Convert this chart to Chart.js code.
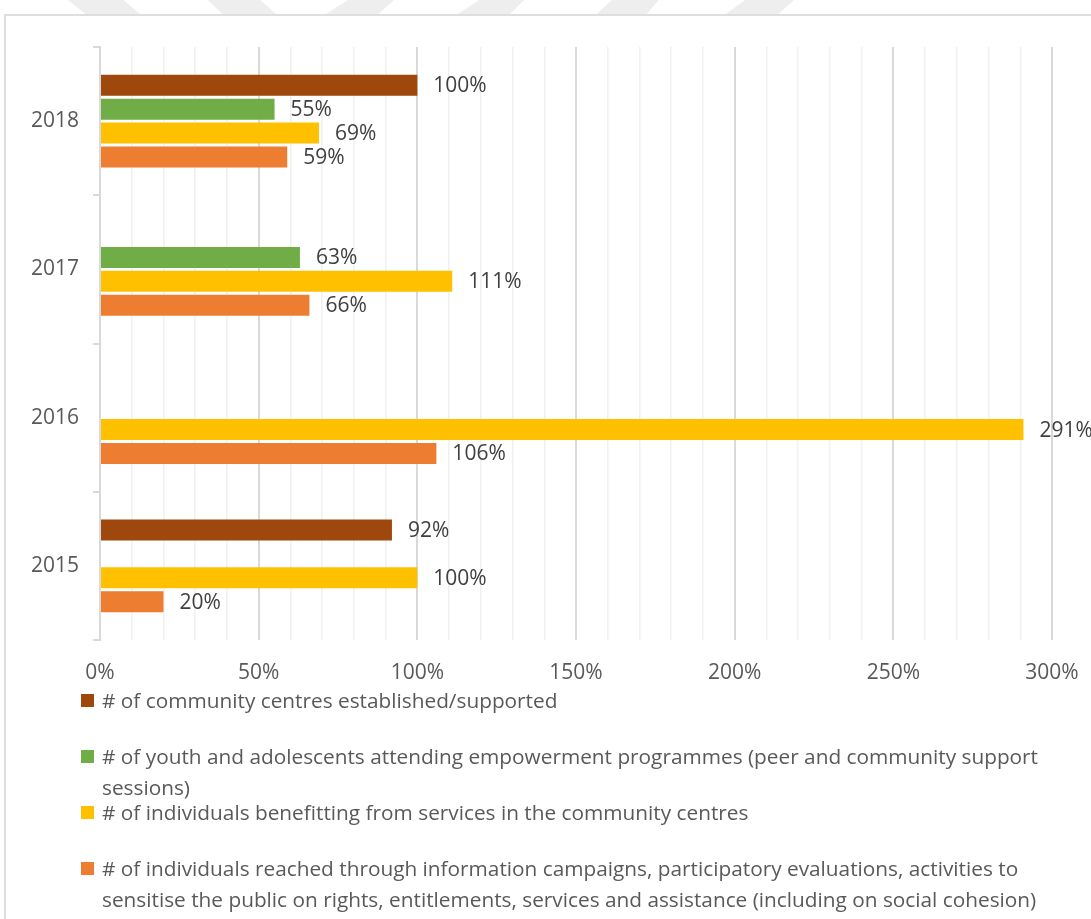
<!DOCTYPE html>
<html>
<head>
<meta charset="utf-8">
<script src="https://cdn.jsdelivr.net/npm/chart.js@4/dist/chart.umd.min.js"></script>
<style>
  html, body { margin:0; padding:0; background:#fff; overflow:hidden; }
  body { width:1091px; height:919px; position:relative; font-family:"Open Sans", sans-serif; }
  .mark { position:absolute; top:0; height:14px; background:#eeeeee; }
  #frame { position:absolute; left:4px; top:14px; width:1300px; height:1200px; border:2px solid #dedede; box-sizing:border-box; }
  #grafico { position:absolute; left:0; top:0; }
  #legenda { position:absolute; left:81px; top:685px; color:#595959; font-size:20.8px; }
  .item { height:56px; position:relative; line-height:31px; white-space:nowrap; padding-left:21px; }
  .item span.cor { position:absolute; left:0; top:9px; width:13px; height:13px; }
</style>
</head>
<body>

<!-- faixas cinza do topo -->
<div class="mark" style="left:68px;width:72px;clip-path:polygon(0 0,77% 0,100% 100%,24% 100%)"></div>
<div class="mark" style="left:208px;width:68px;clip-path:polygon(0 0,77% 0,100% 100%,21% 100%)"></div>
<div class="mark" style="left:326px;width:68px;clip-path:polygon(32% 0,100% 0,77% 100%,0 100%)"></div>
<div class="mark" style="left:458px;width:66px;clip-path:polygon(32% 0,100% 0,79% 100%,0 100%)"></div>
<div class="mark" style="left:597px;width:62px;clip-path:polygon(24% 0,100% 0,80% 100%,0 100%)"></div>
<div class="mark" style="left:726px;width:68px;clip-path:polygon(28% 0,100% 0,77% 100%,0 100%)"></div>

<div id="frame"></div>
<canvas id="grafico" width="1091" height="690"></canvas>
<div id="legenda"></div>

<script>
// ===========================
// DADOS
// ===========================

const anos = ["2018", "2017", "2016", "2015"];

const centros      = [100, null, null, 92];
const jovens       = [55, 63, null, null];
const beneficiados = [69, 111, 291, 100];
const alcancados   = [59, 66, 106, 20];

const nomesSeries = [
    "# of community centres established/supported",
    "# of youth and adolescents attending empowerment programmes (peer and community support\nsessions)",
    "# of individuals benefitting from services in the community centres",
    "# of individuals reached through information campaigns, participatory evaluations, activities to\nsensitise the public on rights, entitlements, services and assistance (including on social cohesion)"
];

const cores = ["#9E480E", "#70AD47", "#FFC000", "#ED7D31"];

const eixoMin = 0;
const eixoMax = 300;
const passo = 10;

const fonte = "'Open Sans', sans-serif";


// ===========================
// RÓTULOS DE VALOR
// ===========================

const rotulos = {
    id: "rotulos",
    afterDatasetsDraw(chart) {
        const ctx = chart.ctx;
        ctx.save();
        ctx.font = "21px " + fonte;
        ctx.fillStyle = "#404040";
        ctx.textAlign = "left";
        ctx.textBaseline = "middle";
        chart.data.datasets.forEach((ds, i) => {
            chart.getDatasetMeta(i).data.forEach((barra, j) => {
                const v = ds.data[j];
                if (v === null) return;
                ctx.fillText(v + "%", barra.x + 16, barra.y + 1);
            });
        });
        ctx.restore();
    }
};


// ===========================
// GRÁFICO
// ===========================

const series = [centros, jovens, beneficiados, alcancados];

new Chart(document.getElementById("grafico"), {
    type: "bar",
    data: {
        labels: anos,
        datasets: series.map((s, i) => ({
            label: nomesSeries[i].replace("\n", " "),
            data: s,
            backgroundColor: cores[i],
            borderWidth: 0,
            categoryPercentage: 0.645,
            barPercentage: 0.88
        }))
    },
    options: {
        indexAxis: "y",
        responsive: false,
        animation: false,
        layout: { padding: { top: 47, right: 39, left: 0, bottom: 0 } },
        plugins: {
            legend: { display: false },
            tooltip: { enabled: false }
        },
        scales: {
            x: {
                min: eixoMin,
                max: eixoMax,
                ticks: {
                    stepSize: passo,
                    autoSkip: false,
                    maxRotation: 0,
                    padding: 20,
                    color: "#595959",
                    font: { family: fonte, size: 21 },
                    callback: v => (v % 50 === 0 ? v + "%" : "")
                },
                grid: {
                    drawTicks: false,
                    color: c => (c.tick && c.tick.value % 50 === 0 ? "#d9d9d9" : "#f0f0f0"),
                    lineWidth: c => (c.tick && c.tick.value % 50 === 0 ? 2 : 1.5)
                },
                border: { display: false },
                afterFit: s => {
                    s.height = 50;
                    // o rótulo "300%" pode passar da área do gráfico
                    s.paddingLeft = 0;
                    s.paddingRight = 0;
                }
            },
            y: {
                ticks: {
                    padding: 14,
                    color: "#595959",
                    font: { family: fonte, size: 21 }
                },
                grid: {
                    drawOnChartArea: false,
                    tickLength: 7,
                    color: "#d9d9d9",
                    lineWidth: 2
                },
                border: { color: "#d9d9d9", width: 2 },
                afterFit: s => { s.width = 100; }
            }
        }
    },
    plugins: [rotulos]
});


// ===========================
// LEGENDA
// ===========================

const legenda = document.getElementById("legenda");
nomesSeries.forEach((nome, i) => {
    const item = document.createElement("div");
    item.className = "item";
    const cor = document.createElement("span");
    cor.className = "cor";
    cor.style.background = cores[i];
    item.appendChild(cor);
    nome.split("\n").forEach((linha, k) => {
        if (k > 0) item.appendChild(document.createElement("br"));
        item.appendChild(document.createTextNode(linha));
    });
    legenda.appendChild(item);
});
</script>
</body>
</html>
